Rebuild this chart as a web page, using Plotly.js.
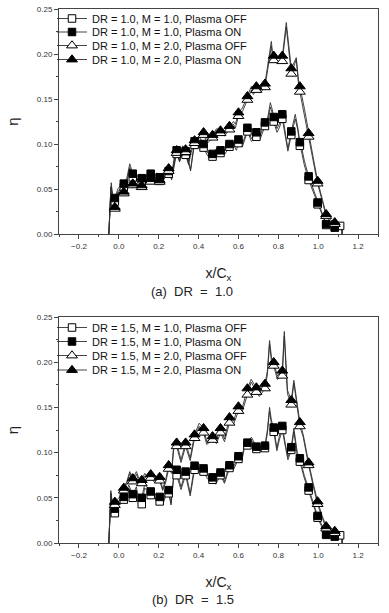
<!DOCTYPE html>
<html>
<head>
<meta charset="utf-8">
<script src="https://cdn.plot.ly/plotly-3.0.1.min.js"></script>
<style>html,body{margin:0;padding:0;background:#fff;}#chart{width:389px;height:613px;}</style>
</head>
<body>
<div id="chart"></div>
<script>
// ---------- tick labels / captions ----------
const xTitle = 'x/C<sub>x</sub>';
const yTitle = 'η';
const captionA = '(a)  DR  =  1.0';
const captionB = '(b)  DR  =  1.5';
const legendA = ['DR = 1.0, M = 1.0, Plasma OFF', 'DR = 1.0, M = 1.0, Plasma ON', 'DR = 1.0, M = 2.0, Plasma OFF', 'DR = 1.0, M = 2.0, Plasma ON'];
const legendB = ['DR = 1.5, M = 1.0, Plasma OFF', 'DR = 1.5, M = 1.0, Plasma ON', 'DR = 1.5, M = 2.0, Plasma OFF', 'DR = 1.5, M = 2.0, Plasma ON'];

// ---------- marker positions (x/Cx) ----------
const markerX = [-0.02, 0.025, 0.07, 0.115, 0.16, 0.205, 0.25, 0.29, 0.335, 0.38, 0.425, 0.47, 0.51, 0.555, 0.60, 0.645, 0.69, 0.733, 0.777, 0.82, 0.865, 0.908, 0.952, 0.997, 1.04, 1.083, 1.11];

// ---------- (a) DR = 1.0 : marker values ----------
const aM1On  = [0.040, 0.056, 0.067, 0.062, 0.067, 0.063, 0.070, 0.093, 0.092, 0.103, 0.100, 0.089, 0.093, 0.100, 0.105, 0.118, 0.113, 0.124, 0.130, 0.133, 0.114, 0.102, 0.064, 0.035, 0.011, 0.008, null];
const aM1Off = [0.036, 0.052, 0.063, 0.058, 0.063, 0.059, 0.067, 0.089, 0.088, 0.099, 0.096, 0.086, 0.090, 0.097, 0.101, 0.114, 0.108, 0.120, 0.125, 0.128, 0.110, 0.098, 0.060, 0.033, 0.010, 0.007, 0.009];
const aM2On  = [0.030, 0.047, 0.056, 0.054, 0.061, 0.060, 0.073, 0.093, 0.094, 0.104, 0.113, 0.110, 0.115, 0.120, 0.135, 0.153, 0.164, 0.167, 0.198, 0.198, 0.184, 0.164, 0.112, 0.059, 0.022, 0.013, null];
const aM2Off = [0.028, 0.045, 0.054, 0.052, 0.058, 0.058, 0.070, 0.090, 0.091, 0.101, 0.110, 0.107, 0.112, 0.116, 0.131, 0.149, 0.160, 0.163, 0.193, 0.192, 0.178, 0.158, 0.108, 0.056, 0.020, 0.011, null];

// ---------- (a) DR = 1.0 : measured curves ----------
const aM1LineX   = [-0.05, -0.04, -0.032, -0.02, -0.005, 0.01, 0.025, 0.04, 0.055, 0.07, 0.085, 0.10, 0.115, 0.13, 0.145, 0.16, 0.18, 0.19, 0.205, 0.22, 0.235, 0.25, 0.265, 0.28, 0.29, 0.305, 0.32, 0.335, 0.35, 0.365, 0.38, 0.395, 0.41, 0.425, 0.445, 0.47, 0.49, 0.51, 0.53, 0.555, 0.575, 0.59, 0.60, 0.62, 0.635, 0.645, 0.665, 0.69, 0.71, 0.733, 0.745, 0.76, 0.77, 0.777, 0.793, 0.805, 0.82, 0.835, 0.848, 0.865, 0.885, 0.898, 0.908, 0.918, 0.93, 0.952, 0.975, 0.997, 1.02, 1.04, 1.06, 1.083, 1.11, 1.12, 1.12];
const aM1LineOn  = [0, 0.052, 0.045, 0.040, 0.050, 0.054, 0.056, 0.062, 0.078, 0.067, 0.062, 0.066, 0.062, 0.058, 0.068, 0.067, 0.064, 0.068, 0.063, 0.064, 0.068, 0.070, 0.066, 0.088, 0.093, 0.085, 0.096, 0.092, 0.080, 0.097, 0.103, 0.098, 0.106, 0.100, 0.090, 0.089, 0.095, 0.093, 0.092, 0.100, 0.102, 0.097, 0.105, 0.100, 0.110, 0.118, 0.106, 0.113, 0.110, 0.124, 0.127, 0.146, 0.138, 0.130, 0.117, 0.122, 0.133, 0.113, 0.095, 0.114, 0.133, 0.118, 0.102, 0.095, 0.082, 0.064, 0.050, 0.035, 0.022, 0.011, 0.009, 0.008, 0.009, 0.003, 0];
const aM1LineOff = [0, 0.050, 0.042, 0.036, 0.047, 0.051, 0.052, 0.058, 0.074, 0.063, 0.059, 0.062, 0.058, 0.055, 0.064, 0.063, 0.061, 0.065, 0.059, 0.061, 0.064, 0.067, 0.063, 0.084, 0.089, 0.081, 0.092, 0.088, 0.077, 0.093, 0.099, 0.095, 0.102, 0.096, 0.087, 0.086, 0.092, 0.090, 0.088, 0.097, 0.099, 0.093, 0.101, 0.097, 0.106, 0.114, 0.103, 0.108, 0.106, 0.120, 0.123, 0.141, 0.134, 0.125, 0.113, 0.118, 0.128, 0.110, 0.092, 0.110, 0.128, 0.115, 0.098, 0.090, 0.077, 0.060, 0.047, 0.033, 0.020, 0.010, 0.008, 0.007, 0.009, 0.003, 0];
const aM2LineX   = [-0.05, -0.038, -0.03, -0.02, -0.005, 0.01, 0.025, 0.045, 0.07, 0.09, 0.115, 0.135, 0.16, 0.18, 0.205, 0.225, 0.25, 0.265, 0.275, 0.29, 0.305, 0.32, 0.335, 0.36, 0.38, 0.40, 0.425, 0.445, 0.47, 0.49, 0.51, 0.53, 0.555, 0.575, 0.585, 0.60, 0.62, 0.645, 0.665, 0.675, 0.69, 0.71, 0.733, 0.752, 0.765, 0.772, 0.777, 0.798, 0.82, 0.84, 0.857, 0.865, 0.878, 0.89, 0.902, 0.908, 0.932, 0.952, 0.975, 0.997, 1.02, 1.04, 1.06, 1.083, 1.10, 1.12, 1.12];
const aM2LineOn  = [0, 0.057, 0.040, 0.030, 0.045, 0.050, 0.047, 0.058, 0.056, 0.062, 0.054, 0.062, 0.061, 0.058, 0.060, 0.062, 0.073, 0.062, 0.075, 0.093, 0.082, 0.098, 0.094, 0.072, 0.104, 0.108, 0.113, 0.105, 0.110, 0.117, 0.115, 0.112, 0.120, 0.125, 0.122, 0.135, 0.140, 0.153, 0.164, 0.158, 0.164, 0.160, 0.167, 0.195, 0.214, 0.199, 0.198, 0.195, 0.197, 0.235, 0.195, 0.184, 0.190, 0.196, 0.169, 0.164, 0.138, 0.112, 0.085, 0.059, 0.040, 0.022, 0.016, 0.013, 0.010, 0.005, 0];
const aM2LineOff = [0, 0.053, 0.038, 0.028, 0.042, 0.047, 0.045, 0.055, 0.054, 0.059, 0.052, 0.059, 0.058, 0.056, 0.058, 0.060, 0.070, 0.060, 0.072, 0.090, 0.080, 0.095, 0.091, 0.070, 0.101, 0.106, 0.110, 0.101, 0.107, 0.114, 0.112, 0.109, 0.116, 0.122, 0.118, 0.131, 0.136, 0.149, 0.160, 0.155, 0.160, 0.157, 0.163, 0.190, 0.209, 0.195, 0.193, 0.190, 0.192, 0.230, 0.190, 0.178, 0.186, 0.194, 0.165, 0.158, 0.134, 0.108, 0.081, 0.056, 0.037, 0.020, 0.014, 0.011, 0.009, 0.004, 0];

// ---------- (b) DR = 1.5 : marker values ----------
const bM1On  = [0.038, 0.051, 0.054, 0.050, 0.057, 0.051, 0.0585, 0.081, 0.079, 0.0855, 0.0825, 0.0726, 0.078, 0.086, 0.096, 0.111, 0.1066, 0.1077, 0.1277, 0.1295, 0.106, 0.0937, 0.0615, 0.030, 0.0097, 0.008, null];
const bM1Off = [0.033, 0.048, 0.050, 0.043, 0.053, 0.046, 0.055, 0.075, 0.075, 0.081, 0.079, 0.070, 0.075, 0.083, 0.093, 0.108, 0.104, 0.105, 0.123, 0.125, 0.103, 0.090, 0.058, 0.028, 0.009, 0.007, 0.0085];
const bM2On  = [0.0455, 0.061, 0.0715, 0.0696, 0.076, 0.073, 0.086, 0.111, 0.111, 0.120, 0.127, 0.118, 0.127, 0.139, 0.151, 0.171, 0.172, 0.176, 0.200, 0.1906, 0.158, 0.1336, 0.089, 0.046, 0.0185, 0.0133, null];
const bM2Off = [0.042, 0.058, 0.068, 0.066, 0.072, 0.069, 0.082, 0.107, 0.107, 0.116, 0.122, 0.114, 0.122, 0.133, 0.146, 0.164, 0.167, 0.171, 0.196, 0.185, 0.153, 0.129, 0.086, 0.043, 0.016, 0.011, null];

// ---------- (b) DR = 1.5 : measured curves ----------
const bM1LineX   = [-0.05, -0.04, -0.028, -0.02, 0.0, 0.025, 0.05, 0.07, 0.088, 0.10, 0.115, 0.13, 0.16, 0.18, 0.205, 0.22, 0.235, 0.25, 0.262, 0.275, 0.29, 0.312, 0.335, 0.358, 0.38, 0.40, 0.425, 0.445, 0.47, 0.486, 0.51, 0.53, 0.555, 0.575, 0.60, 0.615, 0.63, 0.645, 0.665, 0.69, 0.71, 0.733, 0.745, 0.756, 0.766, 0.777, 0.793, 0.805, 0.82, 0.835, 0.848, 0.865, 0.878, 0.895, 0.908, 0.93, 0.952, 0.975, 0.997, 1.02, 1.04, 1.06, 1.083, 1.11, 1.12, 1.12];
const bM1LineOn  = [0, 0.055, 0.034, 0.038, 0.046, 0.051, 0.064, 0.054, 0.062, 0.048, 0.050, 0.065, 0.057, 0.054, 0.051, 0.044, 0.055, 0.0585, 0.044, 0.075, 0.081, 0.062, 0.079, 0.055, 0.0855, 0.088, 0.0825, 0.074, 0.0726, 0.068, 0.078, 0.068, 0.086, 0.084, 0.096, 0.092, 0.108, 0.111, 0.117, 0.1066, 0.104, 0.1077, 0.125, 0.150, 0.135, 0.1277, 0.105, 0.118, 0.1295, 0.110, 0.095, 0.106, 0.127, 0.100, 0.0937, 0.075, 0.0615, 0.045, 0.030, 0.018, 0.0097, 0.009, 0.008, 0.0085, 0.004, 0];
const bM1LineOff = [0, 0.052, 0.031, 0.033, 0.043, 0.048, 0.061, 0.050, 0.058, 0.042, 0.043, 0.061, 0.053, 0.050, 0.046, 0.042, 0.052, 0.055, 0.042, 0.071, 0.075, 0.059, 0.075, 0.052, 0.081, 0.085, 0.079, 0.071, 0.070, 0.065, 0.075, 0.066, 0.083, 0.081, 0.093, 0.089, 0.105, 0.108, 0.114, 0.104, 0.101, 0.105, 0.121, 0.146, 0.131, 0.123, 0.102, 0.114, 0.125, 0.107, 0.092, 0.103, 0.123, 0.097, 0.090, 0.072, 0.058, 0.043, 0.028, 0.017, 0.009, 0.008, 0.007, 0.0085, 0.004, 0];
const bM2LineX   = [-0.05, -0.04, -0.028, -0.02, 0.005, 0.025, 0.04, 0.055, 0.07, 0.088, 0.10, 0.115, 0.13, 0.145, 0.16, 0.18, 0.205, 0.22, 0.235, 0.25, 0.265, 0.276, 0.29, 0.312, 0.335, 0.358, 0.38, 0.403, 0.425, 0.441, 0.47, 0.49, 0.51, 0.53, 0.555, 0.575, 0.60, 0.62, 0.645, 0.664, 0.69, 0.705, 0.733, 0.745, 0.756, 0.766, 0.777, 0.795, 0.82, 0.83, 0.846, 0.865, 0.878, 0.895, 0.908, 0.925, 0.94, 0.952, 0.975, 0.997, 1.02, 1.04, 1.06, 1.083, 1.10, 1.12, 1.12];
const bM2LineOn  = [0, 0.058, 0.036, 0.0455, 0.051, 0.061, 0.068, 0.079, 0.0715, 0.079, 0.072, 0.0696, 0.077, 0.072, 0.076, 0.070, 0.073, 0.060, 0.070, 0.086, 0.080, 0.110, 0.111, 0.092, 0.111, 0.094, 0.120, 0.1325, 0.127, 0.112, 0.118, 0.114, 0.127, 0.115, 0.139, 0.135, 0.151, 0.150, 0.171, 0.181, 0.172, 0.166, 0.176, 0.190, 0.224, 0.205, 0.200, 0.185, 0.1906, 0.234, 0.169, 0.158, 0.180, 0.150, 0.1336, 0.120, 0.100, 0.089, 0.066, 0.046, 0.030, 0.0185, 0.015, 0.0133, 0.010, 0.005, 0];
const bM2LineOff = [0, 0.055, 0.034, 0.042, 0.048, 0.058, 0.066, 0.077, 0.068, 0.076, 0.069, 0.066, 0.074, 0.069, 0.072, 0.067, 0.069, 0.058, 0.067, 0.082, 0.077, 0.106, 0.107, 0.089, 0.107, 0.091, 0.116, 0.129, 0.122, 0.109, 0.114, 0.110, 0.122, 0.112, 0.133, 0.131, 0.146, 0.146, 0.164, 0.178, 0.167, 0.162, 0.171, 0.186, 0.220, 0.200, 0.196, 0.181, 0.185, 0.229, 0.165, 0.153, 0.177, 0.146, 0.129, 0.117, 0.097, 0.086, 0.063, 0.043, 0.028, 0.016, 0.013, 0.011, 0.009, 0.004, 0];

// ---------- build ----------
const LINE_C = '#303030';
const FONT = 'Liberation Sans, Arial, sans-serif';
const sym = [
  {symbol: 'square', color: '#fff', size: 7.5},
  {symbol: 'square', color: '#000', size: 7.5},
  {symbol: 'triangle-up', color: '#fff', size: 9.5},
  {symbol: 'triangle-up', color: '#000', size: 9.5}
];

function panel(xa, ya, legIds, names, lx1, l1off, l1on, lx2, l2off, l2on, m1off, m1on, m2off, m2on) {
  const out = [];
  const lines = [[lx1, l1off], [lx1, l1on], [lx2, l2off], [lx2, l2on]];
  lines.forEach(([x, y]) => out.push({
    type: 'scatter', mode: 'lines', x: x, y: y, xaxis: xa, yaxis: ya,
    line: {color: LINE_C, width: 0.9}, showlegend: false, hoverinfo: 'skip'
  }));
  const marks = [m1off, m1on, m2off, m2on];
  marks.forEach((m, i) => out.push({
    type: 'scatter', mode: 'markers', x: markerX, y: m, xaxis: xa, yaxis: ya,
    marker: {symbol: sym[i].symbol, size: sym[i].size, color: sym[i].color, line: {color: '#000', width: 1}},
    showlegend: false
  }));
  names.forEach((n, i) => out.push({
    type: 'scatter', mode: 'lines+markers', x: [null], y: [null], xaxis: xa, yaxis: ya,
    name: n, legend: legIds[i],
    line: {color: LINE_C, width: 0.9},
    marker: {symbol: sym[i].symbol, size: sym[i].size, color: sym[i].color, line: {color: '#000', width: 1}}
  }));
  return out;
}

const data = [].concat(
  panel('x', 'y', ['legend', 'legend2', 'legend3', 'legend4'], legendA, aM1LineX, aM1LineOff, aM1LineOn, aM2LineX, aM2LineOff, aM2LineOn, aM1Off, aM1On, aM2Off, aM2On),
  panel('x2', 'y2', ['legend5', 'legend6', 'legend7', 'legend8'], legendB, bM1LineX, bM1LineOff, bM1LineOn, bM2LineX, bM2LineOff, bM2LineOn, bM1Off, bM1On, bM2Off, bM2On)
);

const W = 389, H = 613;
const px = v => v / W, py = v => 1 - v / H;

function xax(anchor) {
  return {
    anchor: anchor, domain: [px(59), px(378)], range: [-0.3, 1.3],
    tick0: 0, dtick: 0.2, tickformat: '.1f', ticks: 'outside', ticklen: 4, tickwidth: 1, tickcolor: '#444',
    minor: {dtick: 0.1, ticks: 'outside', ticklen: 2, tickcolor: '#444'},
    showline: true, linecolor: '#444', linewidth: 1, mirror: true,
    showgrid: false, zeroline: false,
    tickfont: {family: FONT, size: 8, color: '#333'},
    title: {text: xTitle, standoff: 18, font: {family: FONT, size: 14, color: '#222'}}
  };
}
function yax(anchor, top, bottom) {
  return {
    anchor: anchor, domain: [py(bottom), py(top)], range: [0, 0.25],
    tick0: 0, dtick: 0.05, tickformat: '.2f', ticks: 'outside', ticklen: 4, tickwidth: 1, tickcolor: '#444',
    minor: {dtick: 0.025, ticks: 'outside', ticklen: 2, tickcolor: '#444'},
    showline: true, linecolor: '#444', linewidth: 1, mirror: true,
    showgrid: false, zeroline: false,
    tickfont: {family: FONT, size: 8, color: '#333'},
    title: {text: yTitle, standoff: 14, font: {family: FONT, size: 15, color: '#222'}}
  };
}
function legendAt(rowY) {
  return {
    x: px(52), y: py(rowY), xanchor: 'left', yanchor: 'middle',
    bgcolor: 'rgba(0,0,0,0)', borderwidth: 0,
    font: {family: FONT, size: 11, color: '#111'},
    itemclick: false
  };
}
function ann(text, x, y, size) {
  return {text: text, x: px(x), y: py(y), xref: 'paper', yref: 'paper', xanchor: 'center', yanchor: 'middle',
    showarrow: false, font: {family: FONT, size: size, color: '#222'}};
}

const layout = {
  width: W, height: H, margin: {l: 0, r: 0, t: 0, b: 0},
  paper_bgcolor: '#fff', plot_bgcolor: '#fff',
  xaxis: xax('y'), yaxis: yax('x', 9, 234),
  xaxis2: xax('y2'), yaxis2: yax('x2', 317, 543),
  legend: legendAt(18.5), legend2: legendAt(32), legend3: legendAt(45.5), legend4: legendAt(59.5),
  legend5: legendAt(327.5), legend6: legendAt(341.5), legend7: legendAt(355.5), legend8: legendAt(370),
  annotations: [ann(captionA, 192, 291, 13), ann(captionB, 193, 599, 13)]
};

Plotly.newPlot('chart', data, layout, {staticPlot: true, displayModeBar: false});
</script>
</body>
</html>
